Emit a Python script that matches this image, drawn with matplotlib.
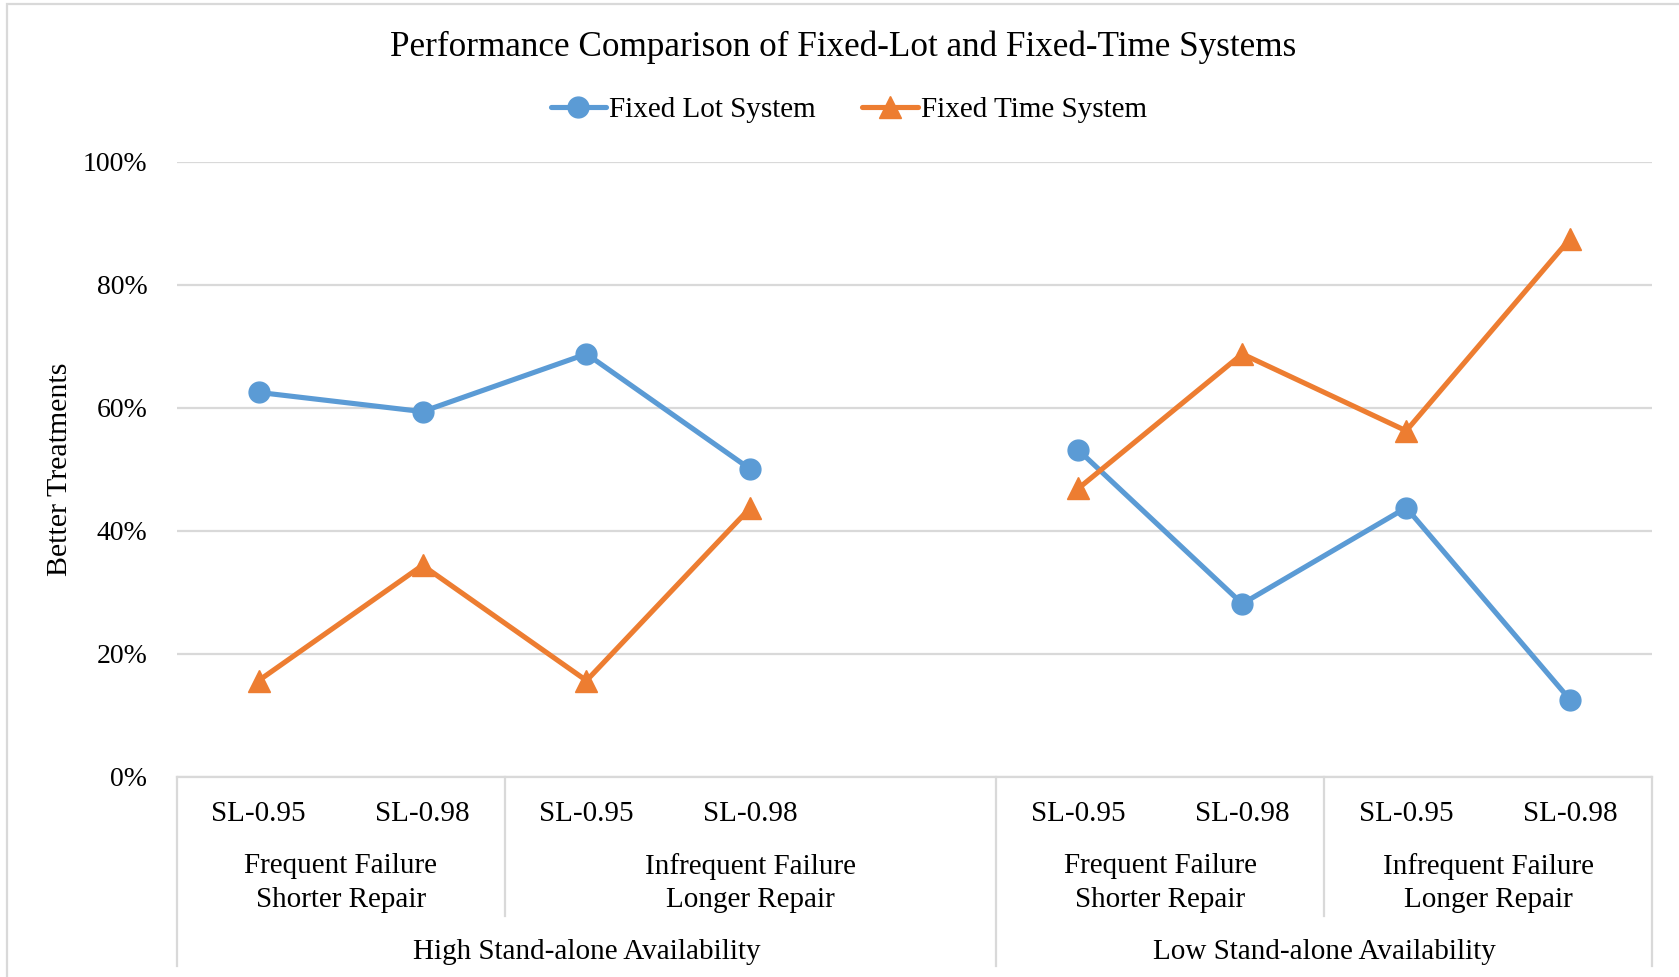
import numpy as np
import matplotlib
matplotlib.use("Agg")
import matplotlib.pyplot as plt
from matplotlib.lines import Line2D
from matplotlib.patches import Rectangle

plt.rcParams['font.family'] = ['Liberation Serif', 'DejaVu Serif']

# Nine category slots; slot 4 is an empty spacer between the two availability groups
sl_labels = ["SL-0.95", "SL-0.98", "SL-0.95", "SL-0.98", "",
             "SL-0.95", "SL-0.98", "SL-0.95", "SL-0.98"]
fixed_lot = [0.625, 0.59375, 0.6875, 0.50, np.nan, 0.53125, 0.28125, 0.4375, 0.125]
fixed_time = [0.15625, 0.34375, 0.15625, 0.4375, np.nan, 0.46875, 0.6875, 0.5625, 0.875]

# (label, first slot, last slot)
failure_groups = [("Frequent Failure\nShorter Repair", 0, 1),
                  ("Infrequent Failure\nLonger Repair", 2, 4),
                  ("Frequent Failure\nShorter Repair", 5, 6),
                  ("Infrequent Failure\nLonger Repair", 7, 8)]
availability_groups = [("High Stand-alone Availability", 0, 4),
                       ("Low Stand-alone Availability", 5, 8)]

y_ticks = [0, 0.2, 0.4, 0.6, 0.8, 1.0]

BLUE = "#5B9BD5"
ORANGE = "#ED7D31"
GRID = "#D9D9D9"
FS = 21

fig = plt.figure(figsize=(16.79, 9.77), dpi=100)
ax = fig.add_axes([0.1052, 0.205, 0.8788, 0.6294])

x = np.arange(len(sl_labels))
ax.plot(x, fixed_lot, color=BLUE, lw=3.7, marker="o", ms=15,
        label="Fixed Lot System", solid_capstyle="round", zorder=3)
ax.plot(x, fixed_time, color=ORANGE, lw=3.7, marker="^", ms=16,
        label="Fixed Time System", solid_capstyle="round", zorder=3)

ax.set_xlim(-0.5, len(sl_labels) - 0.5)
ax.set_ylim(0, 1.0)
ax.set_yticks(y_ticks)
ax.set_yticklabels([f"{int(round(v * 100))}%" for v in y_ticks], fontsize=20)
ax.tick_params(axis="y", length=0, pad=21)
ax.set_xticks([])
ax.grid(axis="y", color=GRID, lw=1.6)
ax.set_axisbelow(True)
for s in ["top", "right", "left"]:
    ax.spines[s].set_visible(False)
ax.spines["bottom"].set_color(GRID)
ax.spines["bottom"].set_linewidth(1.6)

ax.set_ylabel("Better Treatments", fontsize=21.5, labelpad=7)

tr = ax.get_xaxis_transform()

# Level 1: service-level labels
for i, lab in enumerate(sl_labels):
    if lab:
        ax.text(i, -0.06, lab, transform=tr, ha="center", va="center",
                fontsize=FS, clip_on=False)

# Level 2: failure/repair groups
for lab, a, b in failure_groups:
    ax.text((a + b) / 2, -0.173, lab, transform=tr, ha="center", va="center",
            fontsize=FS, linespacing=1.38, clip_on=False)

# Level 3: availability groups
for lab, a, b in availability_groups:
    ax.text((a + b) / 2, -0.285, lab, transform=tr, ha="center", va="center",
            fontsize=FS, clip_on=False)

# Group separators below the axis
inner_edges = sorted({a - 0.5 for _, a, _ in failure_groups} |
                     {b + 0.5 for _, _, b in failure_groups})
outer_edges = sorted({a - 0.5 for _, a, _ in availability_groups} |
                     {b + 0.5 for _, _, b in availability_groups})
for xe in inner_edges:
    if xe not in outer_edges:
        ax.add_line(Line2D([xe, xe], [0, -0.227], transform=tr, color=GRID,
                           lw=1.6, clip_on=False))
for xe in outer_edges:
    ax.add_line(Line2D([xe, xe], [0, -0.308], transform=tr, color=GRID,
                       lw=1.6, clip_on=False))

fig.suptitle("Performance Comparison of Fixed-Lot and Fixed-Time Systems",
             fontsize=25.3, y=1 - 47 / 977, va="center", x=0.502)

leg = fig.legend(loc="center", bbox_to_anchor=(0.5054, 1 - 110 / 977), ncol=2,
                 frameon=False, fontsize=FS, handlelength=1.9,
                 handletextpad=0.1, columnspacing=1.6)

# Chart-area border
fig.patches.append(Rectangle((7 / 1679, -0.1), 1.2, 1 - 4 / 977 + 0.1,
                             transform=fig.transFigure, fill=False,
                             edgecolor=GRID, lw=1.6))

fig.savefig("out.png", dpi=100)
